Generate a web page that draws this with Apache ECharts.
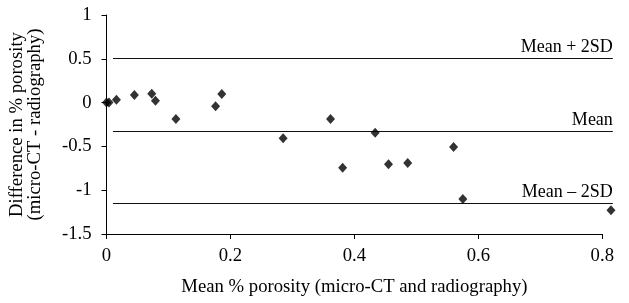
<!DOCTYPE html>
<html><head><meta charset="utf-8">
<script src="https://cdn.jsdelivr.net/npm/echarts@6/dist/echarts.min.js"></script>
<style>html,body{margin:0;padding:0;background:#fff}#c{width:629px;height:303px}</style>
</head><body><div id="c"></div>
<script>
const meanPorosity = [0.0, 0.004, 0.016, 0.045, 0.073, 0.079, 0.112, 0.176, 0.186, 0.285, 0.3615, 0.381, 0.4335, 0.455, 0.486, 0.56, 0.575, 0.814];
const difference = [0.0, 0.0, 0.033, 0.087, 0.10, 0.022, -0.187, -0.042, 0.098, -0.408, -0.187, -0.743, -0.344, -0.704, -0.69, -0.507, -1.10, -1.23];
const limitNames = ['Mean + 2SD', 'Mean', 'Mean \u2013 2SD'];
const limitValues = [0.513, -0.32, -1.15];
const limitXRange = [0.012, 0.817];
const xTicks = [0, 0.2, 0.4, 0.6, 0.8];
const yTicks = [-1.5, -1, -0.5, 0, 0.5, 1];

const font = 'Liberation Serif';
const fs = 18.7;
const W = 629, gl = 105.5, gr = 26.7;
const pxPerUnit = (W - gl - gr) / (xTicks[xTicks.length-1] - xTicks[0]);
const wideMax = 0.84;
const chart = echarts.init(document.getElementById('c'));
chart.setOption({
  animation: false,
  grid: [
    {left: gl, right: gr, top: 15, bottom: 69},
    {left: gl, right: W - gl - wideMax * pxPerUnit, top: 15, bottom: 69}
  ],
  xAxis: [{
    type: 'value', min: xTicks[0], max: xTicks[xTicks.length-1], interval: 0.2,
    name: 'Mean % porosity (micro-CT and radiography)', nameLocation: 'middle', nameGap: 44,
    nameTextStyle: {fontFamily: font, fontSize: fs, color: '#000'},
    axisLine: {onZero: false, lineStyle: {color: '#000', width: 1}},
    axisTick: {show: true, length: 5, lineStyle: {color: '#000'}},
    axisLabel: {fontFamily: font, fontSize: fs, color: '#000', margin: 13},
    splitLine: {show: false}
  }, {
    gridIndex: 1, type: 'value', min: 0, max: wideMax, show: false
  }],
  yAxis: [{
    type: 'value', min: yTicks[0], max: yTicks[yTicks.length-1], interval: 0.5,
    name: 'Difference in % porosity\n(micro-CT - radiography)', nameLocation: 'middle', nameGap: 62, nameRotate: 90,
    nameTextStyle: {fontFamily: font, fontSize: fs, color: '#000', lineHeight: 18},
    axisLine: {onZero: false, lineStyle: {color: '#000', width: 1}},
    axisTick: {show: true, length: 5, lineStyle: {color: '#000'}},
    axisLabel: {fontFamily: font, fontSize: fs, color: '#000', margin: 15},
    splitLine: {show: false}
  }, {
    gridIndex: 1, type: 'value', min: yTicks[0], max: yTicks[yTicks.length-1], show: false
  }],
  series: [{
    type: 'custom', clip: false, silent: true, z: 1,
    xAxisIndex: 1, yAxisIndex: 1,
    data: limitValues.map((v, i) => [limitXRange[0], limitXRange[1], v, i]),
    encode: {x: [0, 1], y: 2},
    renderItem: (params, api) => {
      const p0 = api.coord([api.value(0), api.value(2)]);
      const p1 = api.coord([api.value(1), api.value(2)]);
      const y = Math.round(p0[1]) + 0.5;
      return {
        type: 'group',
        children: [
          {type: 'line', shape: {x1: p0[0], y1: y, x2: p1[0], y2: y}, style: {stroke: '#111', lineWidth: 1}},
          {type: 'text', x: p1[0], y: y - 2, style: {text: limitNames[api.value(3)], fontFamily: font, fontSize: 18, fill: '#000', align: 'right', verticalAlign: 'bottom'}}
        ]
      };
    }
  }, {
    type: 'scatter', clip: false,
    symbol: 'diamond', symbolSize: [9, 10],
    itemStyle: {color: '#000'},
    data: meanPorosity.map((x, i) => [x, difference[i]]),
    z: 3
  }]
});
</script></body></html>
